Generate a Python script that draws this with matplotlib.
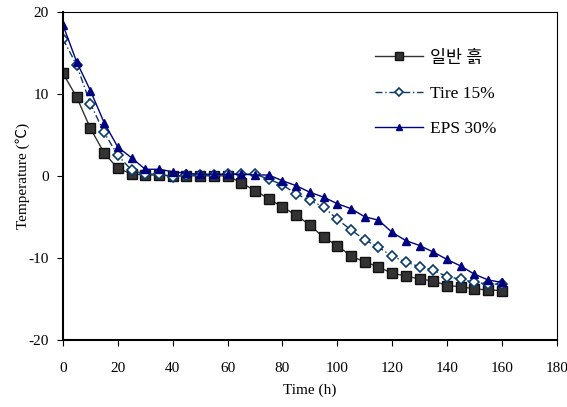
import matplotlib
matplotlib.use("Agg")
from matplotlib import pyplot as plt

plt.rcParams['font.family'] = ['Liberation Serif', 'Noto Sans CJK KR']
plt.rcParams['axes.unicode_minus'] = False

time_h = list(range(0, 165, 5))

plain_soil = [12.5, 9.6, 5.8, 2.8, 0.9, 0.25, 0.1, 0.1, 0.0, 0.0, 0.0, 0.0, 0.0,
              -0.85, -1.8, -2.8, -3.8, -4.8, -6.0, -7.5, -8.5, -9.8, -10.5, -11.1,
              -11.9, -12.2, -12.6, -12.8, -13.4, -13.5, -13.8, -13.9, -14.0]
tire_15 = [16.7, 13.5, 8.8, 5.3, 2.5, 0.7, 0.2, 0.2, -0.1, 0.1, 0.1, 0.1, 0.2,
           0.2, 0.2, -0.4, -1.1, -2.2, -3.0, -3.8, -5.3, -6.6, -7.8, -8.7,
           -9.8, -10.5, -11.1, -11.5, -12.3, -12.6, -13.0, -13.2, -13.2]
eps_30 = [18.4, 13.9, 10.4, 6.5, 3.5, 2.2, 0.8, 0.8, 0.5, 0.3, 0.2, 0.2, 0.2,
          0.2, 0.1, 0.1, -0.6, -1.2, -2.0, -2.6, -3.4, -4.0, -5.0, -5.4,
          -6.9, -7.9, -8.5, -9.3, -10.2, -11.0, -12.0, -12.7, -13.0]

fig = plt.figure(figsize=(5.67, 4.07), dpi=100)
ax = fig.add_axes([0.111, 0.165, 0.871, 0.806])

ax.plot(time_h, plain_soil, color="#333333", lw=1, marker="s", markersize=6.5,
        markerfacecolor="#333333", markeredgecolor="#111111", label="일반 흙")
ax.plot(time_h, tire_15, color="#0A3A6A", lw=1, ls=(0, (5, 2, 1, 2)), marker="D",
        markersize=4.8, markerfacecolor="white", markeredgecolor="#0A3A6A",
        markeredgewidth=1.2, label="Tire 15%")
ax.plot(time_h, eps_30, color="#000080", lw=1, marker="^", markersize=5.5,
        markerfacecolor="#000080", markeredgecolor="#000080", label="EPS 30%")

ax.set_xlim(0, 180)
ax.set_ylim(-20, 20)
ax.set_xticks(range(0, 181, 20))
ax.set_yticks(range(-20, 21, 10))
ax.tick_params(direction="out", length=4, labelsize=11, top=False, right=False)
ax.tick_params(axis="x", pad=12)
ax.tick_params(axis="y", pad=6)
for side in ["left", "bottom"]:
    ax.spines[side].set_linewidth(1.5)
ax.set_xlabel("Time (h)", fontsize=11, labelpad=6)
ax.set_ylabel("Temperature (℃)", fontsize=11, labelpad=-1)

ax.legend(loc="upper left", bbox_to_anchor=(0.6, 0.93), frameon=False,
          fontsize=12.5, handlelength=2.8, handletextpad=0.4, labelspacing=1.1,
          markerscale=0.8)

fig.savefig("out.png", dpi=100)
